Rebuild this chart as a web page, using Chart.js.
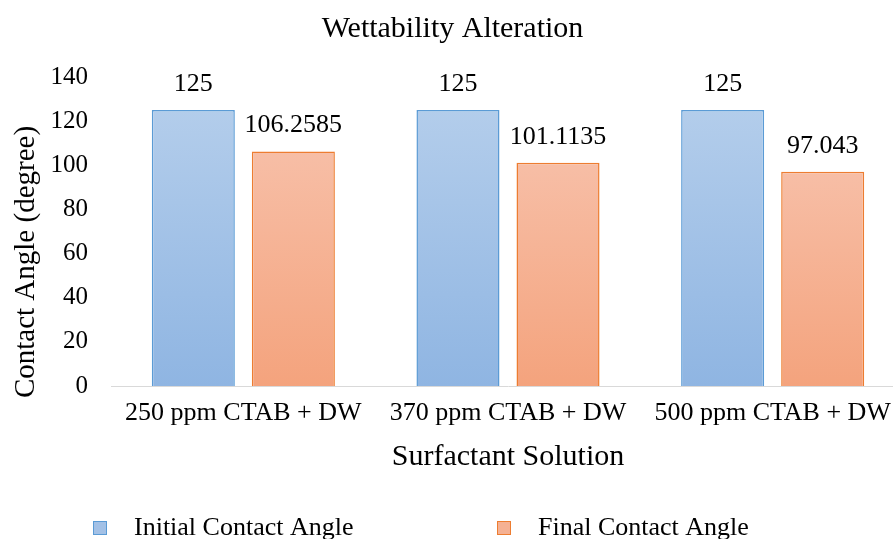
<!DOCTYPE html>
<html>
<head>
<meta charset="utf-8">
<script src="https://cdn.jsdelivr.net/npm/chart.js@4/dist/chart.umd.min.js"></script>
<style>
  html, body { margin: 0; padding: 0; background: #fff; overflow: hidden; }
  #wrap { width: 905px; height: 539px; }
</style>
</head>
<body>
<div id="wrap"><canvas id="chart" width="905" height="539"></canvas></div>
<script>
// Contact angle measurements per surfactant solution
const categories = ['250 ppm CTAB + DW', '370 ppm CTAB + DW', '500 ppm CTAB + DW'];
const initialAngle = [125, 125, 125];
const finalAngle = [106.2585, 101.1135, 97.043];
const seriesNames = ['Initial Contact Angle', 'Final Contact Angle'];
const yTicks = [0, 20, 40, 60, 80, 100, 120, 140];

const FONT = '"Liberation Serif", "Times New Roman", serif';
const INK = '#000000';

// vertical gradient per bar, from the bar's top down to the axis
function barGradient(top, bottom) {
  return (ctx) => {
    const chart = ctx.chart;
    const y = chart.scales && chart.scales.y;
    if (!y || ctx.raw === undefined || !chart.chartArea) return bottom;
    const y0 = y.getPixelForValue(ctx.raw);
    const y1 = y.getPixelForValue(0);
    const g = chart.ctx.createLinearGradient(0, y0, 0, y1);
    g.addColorStop(0, top);
    g.addColorStop(1, bottom);
    return g;
  };
}

// value labels above each bar
const valueLabels = {
  id: 'valueLabels',
  afterDatasetsDraw(chart) {
    const ctx = chart.ctx;
    ctx.save();
    ctx.font = '26px ' + FONT;
    ctx.fillStyle = INK;
    ctx.textAlign = 'center';
    ctx.textBaseline = 'middle';
    chart.data.datasets.forEach((ds, di) => {
      chart.getDatasetMeta(di).data.forEach((el, i) => {
        ctx.fillText(String(ds.data[i]), el.x, el.y - 26);
      });
    });
    ctx.restore();
  }
};

// rotated y-axis title and the legend row along the bottom
const extras = {
  id: 'extras',
  afterDraw(chart) {
    const ctx = chart.ctx;
    ctx.save();
    ctx.fillStyle = INK;
    ctx.font = '29px ' + FONT;
    ctx.translate(34, 262);
    ctx.rotate(-Math.PI / 2);
    ctx.textAlign = 'center';
    ctx.textBaseline = 'alphabetic';
    ctx.fillText('Contact Angle (degree)', 0, 0);
    ctx.restore();

    const items = [
      { x: 93, fill: '#A3C1E6', stroke: '#5B9BD5' },
      { x: 497, fill: '#F5B193', stroke: '#ED7D31' }
    ];
    ctx.save();
    ctx.font = '26px ' + FONT;
    ctx.textBaseline = 'middle';
    ctx.textAlign = 'left';
    items.forEach((it, i) => {
      const ds = chart.data.datasets[i];
      ctx.fillStyle = it.fill;
      ctx.fillRect(it.x, 521, 14, 14);
      ctx.strokeStyle = it.stroke;
      ctx.lineWidth = 1;
      ctx.strokeRect(it.x + 0.5, 521.5, 13, 13);
      ctx.fillStyle = INK;
      ctx.fillText(ds.label, it.x + 41, 528);
    });
    ctx.restore();
  }
};

new Chart(document.getElementById('chart'), {
  type: 'bar',
  data: {
    labels: categories,
    datasets: [
      {
        label: seriesNames[0],
        data: initialAngle,
        backgroundColor: barGradient('#B3CDEB', '#8FB5E2'),
        borderColor: '#5B9BD5',
        borderWidth: 1.5,
        categoryPercentage: 0.756,
        barPercentage: 0.83
      },
      {
        label: seriesNames[1],
        data: finalAngle,
        backgroundColor: barGradient('#F7BEA6', '#F4A37D'),
        borderColor: '#ED7D31',
        borderWidth: 1.5,
        categoryPercentage: 0.756,
        barPercentage: 0.83
      }
    ]
  },
  options: {
    responsive: false,
    animation: false,
    devicePixelRatio: 1,
    layout: { padding: { left: 0, right: 0, top: 0, bottom: 64 } },
    plugins: {
      legend: { display: false },
      tooltip: { enabled: false },
      title: {
        display: true,
        text: 'Wettability Alteration',
        color: INK,
        font: { family: FONT, size: 30, weight: 'normal', lineHeight: 1.2 },
        padding: { top: 11, bottom: 30 }
      }
    },
    scales: {
      x: {
        grid: { display: false, drawTicks: false },
        border: { display: true, color: '#D9D9D9', width: 1 },
        ticks: {
          color: INK,
          font: { family: FONT, size: 26 },
          padding: 12,
          maxRotation: 0,
          autoSkip: false
        },
        title: {
          display: true,
          text: 'Surfactant Solution',
          color: INK,
          font: { family: FONT, size: 30, lineHeight: 1.2 },
          padding: { top: 0, bottom: 0 }
        },
        afterFit(scale) { scale.height = 89; }
      },
      y: {
        min: 0,
        max: 140,
        afterBuildTicks(scale) { scale.ticks = yTicks.map(v => ({ value: v })); },
        grid: { display: false, drawTicks: false },
        border: { display: false },
        ticks: {
          color: INK,
          font: { family: FONT, size: 25 },
          padding: 23
        },
        afterFit(scale) { scale.width = 111; }
      }
    }
  },
  plugins: [valueLabels, extras]
});
</script>
</body>
</html>
